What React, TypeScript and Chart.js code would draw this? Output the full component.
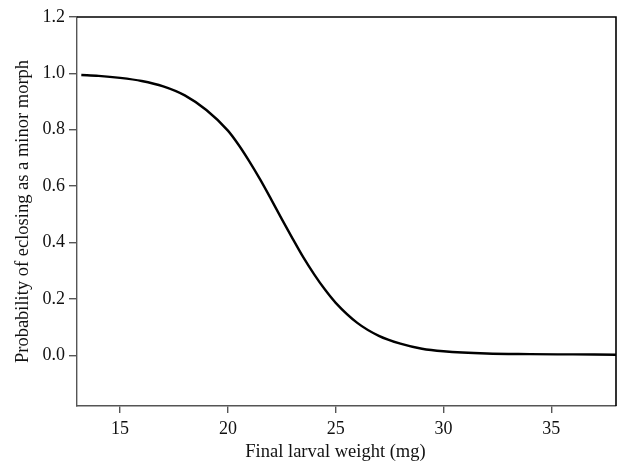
import React, { useEffect, useRef } from "react";
import { Chart, registerables } from "chart.js";

Chart.register(...registerables);

const weightMg = [13.2, 14, 15, 16, 17, 18, 19, 20, 20.5, 21, 21.5, 22, 22.5, 23, 23.5, 24, 24.5, 25, 26, 27, 28, 29, 30, 32, 34, 36, 38];
const probMinor = [0.994, 0.991, 0.984, 0.973, 0.954, 0.922, 0.87, 0.797, 0.746, 0.687, 0.623, 0.554, 0.483, 0.414, 0.347, 0.287, 0.233, 0.186, 0.115, 0.069, 0.041, 0.023, 0.014, 0.006, 0.004, 0.003, 0.002];
const xTicks = [15, 20, 25, 30, 35];
const yTicks = [0.0, 0.2, 0.4, 0.6, 0.8, 1.0, 1.2];
const xTitle = "Final larval weight (mg)";
const yTitle = "Probability of eclosing as a minor morph";

const FONT = "'Liberation Serif', 'Times New Roman', serif";

const framePlugin = {
  id: "frame",
  afterDraw(chart: any) {
    const { ctx, chartArea } = chart;
    ctx.save();
    ctx.strokeStyle = "#000";
    ctx.lineWidth = 1.6;
    ctx.beginPath();
    ctx.moveTo(chartArea.left, chartArea.top);
    ctx.lineTo(chartArea.right, chartArea.top);
    ctx.lineTo(chartArea.right, chartArea.bottom);
    ctx.stroke();
    // x-axis title
    ctx.fillStyle = "#111";
    ctx.font = `18.5px ${FONT}`;
    ctx.textAlign = "center";
    ctx.textBaseline = "middle";
    ctx.fillText(xTitle, (chartArea.left + chartArea.right) / 2 - 11, chart.height - 12);
    ctx.restore();
  },
};

export default function App() {
  const ref = useRef<HTMLCanvasElement>(null);
  useEffect(() => {
    if (!ref.current) return;
    const chart = new Chart(ref.current, {
      type: "line",
      data: {
        datasets: [
          {
            data: weightMg.map((x, i) => ({ x, y: probMinor[i] })),
            borderColor: "#000",
            borderWidth: 2.4,
            pointRadius: 0,
            cubicInterpolationMode: "monotone",
            fill: false,
          },
        ],
      },
      options: {
        animation: false,
        responsive: false,
        layout: { padding: { top: 17, right: 3, left: 0, bottom: 0 } },
        plugins: { legend: { display: false }, tooltip: { enabled: false } },
        scales: {
          x: {
            type: "linear",
            min: 13,
            max: 38,
            afterBuildTicks: (s: any) => {
              s.ticks = xTicks.map((v) => ({ value: v }));
            },
            afterFit: (s: any) => {
              s.height = 58;
            },
            grid: { drawOnChartArea: false, drawTicks: true, tickLength: 7, color: "#555", lineWidth: 1.4 },
            border: { display: true, color: "#555", width: 1.4 },
            ticks: { color: "#111", font: { family: FONT, size: 18 }, padding: 5, maxRotation: 0 },
            title: { display: false },
          },
          y: {
            type: "linear",
            min: -0.18,
            max: 1.2,
            afterBuildTicks: (s: any) => {
              s.ticks = yTicks.map((v) => ({ value: v }));
            },
            afterFit: (s: any) => {
              s.width = 77;
            },
            grid: { drawOnChartArea: false, drawTicks: true, tickLength: 8, color: "#555", lineWidth: 1.4 },
            border: { display: true, color: "#555", width: 1.4 },
            ticks: { color: "#111", font: { family: FONT, size: 18 }, padding: 4, callback: (v: any) => Number(v).toFixed(1) },
            title: { display: true, text: yTitle, color: "#111", font: { family: FONT, size: 18.5 }, padding: { top: 12, bottom: 0 } },
          },
        },
      },
      plugins: [framePlugin],
    } as any);
    return () => chart.destroy();
  }, []);
  return (
    <div style={{ position: "fixed", left: 0, top: 0, width: 619, height: 464, background: "#fff" }}>
      <canvas ref={ref} width={619} height={464} style={{ width: 619, height: 464 }} />
    </div>
  );
}
